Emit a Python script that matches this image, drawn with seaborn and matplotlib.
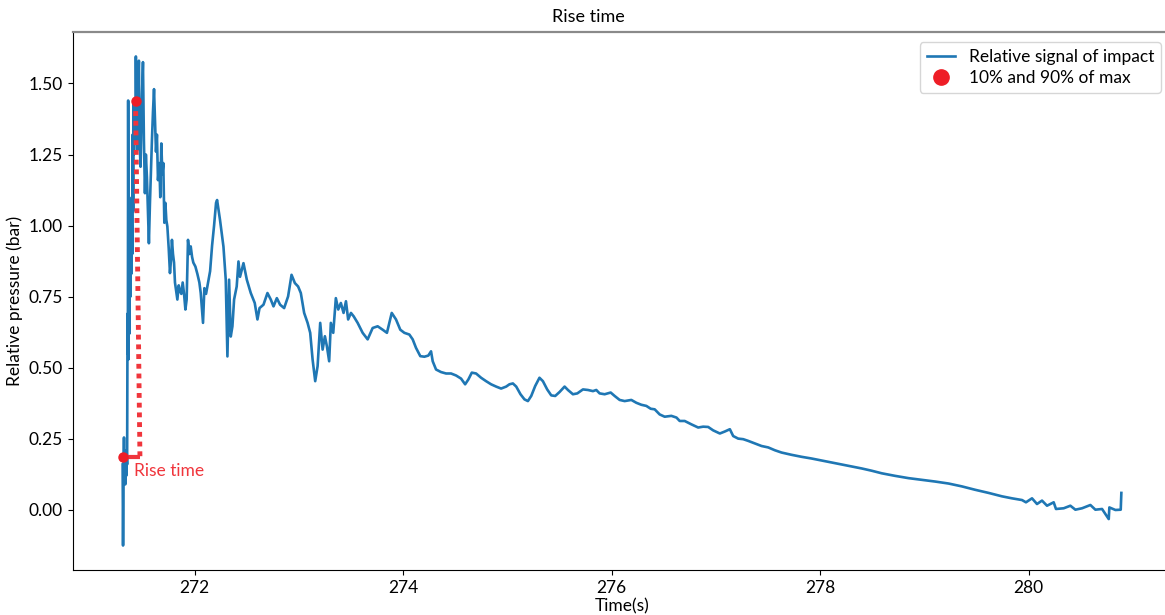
import numpy as np
import pandas as pd
import matplotlib
matplotlib.use("Agg")
import matplotlib.pyplot as plt
import seaborn as sns

plt.rcParams["font.family"] = ["Lato", "DejaVu Sans"]

# rise + peak region
time_rise = [271.309, 271.313, 271.318, 271.322, 271.326, 271.330, 271.334, 271.339,
             271.343, 271.348, 271.352, 271.356, 271.359, 271.362, 271.366, 271.370,
             271.374, 271.379, 271.383, 271.388, 271.392, 271.397, 271.401, 271.405,
             271.410, 271.414, 271.417, 271.424, 271.430, 271.436, 271.443, 271.449,
             271.455, 271.465, 271.471, 271.481, 271.490, 271.504, 271.513, 271.523,
             271.532, 271.542, 271.552, 271.561, 271.571, 271.581, 271.590, 271.600,
             271.610, 271.619, 271.629, 271.638, 271.648, 271.661, 271.670, 271.680,
             271.690, 271.699, 271.709, 271.719, 271.728, 271.738, 271.751, 271.763,
             271.773, 271.782, 271.792, 271.802, 271.811, 271.821, 271.834, 271.847,
             271.859, 271.872, 271.885, 271.898, 271.911, 271.923, 271.936, 271.949,
             271.962, 271.975, 271.987, 272.007, 272.026, 272.045, 272.058, 272.071,
             272.080, 272.093, 272.109, 272.128, 272.148, 272.167, 272.186, 272.205,
             272.215]
p_rise = [0.16, -0.125, 0.14, 0.255, 0.10, 0.21, 0.09, 0.19,
          0.12, 0.20, 0.16, 0.69, 0.55, 1.44, 0.53, 0.95,
          0.62, 1.04, 0.75, 1.02, 0.83, 1.10, 0.90, 1.32,
          1.05, 1.43, 1.25, 1.44, 1.30, 1.595, 1.35, 1.266,
          1.45, 1.58, 1.30, 1.207, 1.40, 1.575, 1.30, 1.114,
          1.25, 1.17, 1.05, 0.938, 1.08, 1.20, 1.30, 1.40,
          1.48, 1.38, 1.26, 1.32, 1.16, 1.22, 1.10, 1.289,
          1.18, 1.22, 1.01, 1.08, 1.02, 0.997, 0.92, 0.833,
          0.88, 0.95, 0.90, 0.87, 0.80, 0.775, 0.74, 0.79,
          0.77, 0.76, 0.80, 0.76, 0.705, 0.74, 0.95, 0.90,
          0.927, 0.89, 0.87, 0.856, 0.83, 0.80, 0.763, 0.70,
          0.658, 0.78, 0.76, 0.80, 0.84, 0.93, 1.00, 1.08,
          1.09]

# oscillating decay region
time_mid = [272.243, 272.276, 272.298, 272.314, 272.330, 272.346, 272.362, 272.378,
            272.403, 272.420, 272.435, 272.468, 272.500, 272.538, 272.576, 272.602,
            272.622, 272.660, 272.698, 272.730, 272.756, 272.788, 272.819, 272.858,
            272.896, 272.929, 272.961, 272.992, 273.018, 273.050, 273.083, 273.108,
            273.131, 273.156, 273.179, 273.204, 273.227, 273.249, 273.268, 273.290,
            273.306, 273.329, 273.354, 273.377, 273.402, 273.428, 273.451, 273.472,
            273.499, 273.525, 273.563, 273.611, 273.659, 273.707, 273.755, 273.803,
            273.844, 273.890, 273.931, 273.972, 274.011, 274.059, 274.091, 274.123,
            274.164, 274.203, 274.241, 274.267, 274.283, 274.315, 274.363, 274.411,
            274.459, 274.507, 274.555, 274.594, 274.625, 274.658, 274.699, 274.747,
            274.795, 274.843, 274.891, 274.939, 274.988, 275.019, 275.052, 275.084,
            275.125, 275.163, 275.196, 275.228, 275.266, 275.307, 275.340, 275.381,
            275.420, 275.458, 275.500, 275.548, 275.580, 275.628, 275.670, 275.724,
            275.772, 275.820, 275.852, 275.884, 275.932, 275.990, 276.028, 276.076,
            276.124, 276.188, 276.236, 276.284, 276.332, 276.374]
p_mid = [1.02, 0.926, 0.81, 0.54, 0.81, 0.61, 0.646, 0.74,
         0.786, 0.874, 0.82, 0.868, 0.81, 0.763, 0.728, 0.67,
         0.71, 0.722, 0.763, 0.74, 0.716, 0.745, 0.722, 0.71,
         0.751, 0.827, 0.798, 0.786, 0.763, 0.693, 0.658, 0.623,
         0.529, 0.453, 0.506, 0.658, 0.564, 0.611, 0.576, 0.523,
         0.658, 0.623, 0.745, 0.705, 0.728, 0.693, 0.734, 0.67,
         0.693, 0.681, 0.658, 0.623, 0.60, 0.64, 0.646, 0.634,
         0.623, 0.693, 0.67, 0.634, 0.623, 0.617, 0.60, 0.57,
         0.541, 0.539, 0.543, 0.558, 0.523, 0.494, 0.485, 0.48,
         0.48, 0.473, 0.462, 0.442, 0.459, 0.483, 0.48, 0.465,
         0.453, 0.442, 0.434, 0.427, 0.434, 0.442, 0.445, 0.434,
         0.407, 0.389, 0.383, 0.401, 0.436, 0.465, 0.453, 0.424,
         0.403, 0.401, 0.415, 0.434, 0.422, 0.407, 0.41, 0.424,
         0.422, 0.418, 0.422, 0.41, 0.407, 0.413, 0.401, 0.387,
         0.383, 0.387, 0.377, 0.37, 0.366, 0.356]

# slow tail
time_tail = [276.412, 276.460, 276.508, 276.572, 276.621, 276.652, 276.700, 276.765,
             276.829, 276.877, 276.925, 276.973, 277.037, 277.085, 277.133, 277.165,
             277.213, 277.261, 277.309, 277.373, 277.437, 277.501, 277.565, 277.629,
             277.725, 277.821, 277.917, 278.013, 278.109, 278.206, 278.302, 278.398,
             278.494, 278.590, 278.718, 278.846, 278.974, 279.102, 279.231, 279.358,
             279.486, 279.615, 279.743, 279.839, 279.935, 279.973, 280.031, 280.079,
             280.127, 280.175, 280.239, 280.261, 280.335, 280.399, 280.447, 280.511,
             280.591, 280.639, 280.703, 280.767, 280.773, 280.831, 280.882, 280.888]
p_tail = [0.354, 0.336, 0.328, 0.331, 0.325, 0.313, 0.313, 0.301,
          0.29, 0.293, 0.292, 0.28, 0.269, 0.276, 0.284, 0.26,
          0.251, 0.249, 0.243, 0.234, 0.225, 0.22, 0.21, 0.202,
          0.194, 0.187, 0.181, 0.174, 0.167, 0.16, 0.153, 0.146,
          0.138, 0.129, 0.12, 0.112, 0.106, 0.10, 0.093, 0.083,
          0.071, 0.06, 0.048, 0.041, 0.035, 0.027, 0.041, 0.021,
          0.033, 0.015, 0.027, 0.0035, 0.006, 0.015, 0.001, 0.006,
          0.0175, 0.001, 0.0035, -0.032, 0.009, 0.0, 0.001, 0.06]

# 10% / 90% points
t_marks = [271.315, 271.433]
p_marks = [0.187, 1.437]
t_bracket_end = 271.475

df = pd.DataFrame({
    "Time(s)": time_rise + time_mid + time_tail,
    "Relative pressure (bar)": p_rise + p_mid + p_tail,
})

fig = plt.figure(figsize=(11.65, 6.15), dpi=100)
ax = fig.add_axes([0.0624, 0.0732, 0.943, 0.8748])

sns.lineplot(data=df, x="Time(s)", y="Relative pressure (bar)", ax=ax,
             color="#1f77b4", linewidth=1.9, estimator=None, sort=False,
             label="Relative signal of impact")

red = "#ee1d26"
ax.plot([t_marks[0], t_bracket_end], [p_marks[0], p_marks[0]],
        color="#f0353c", lw=3, solid_capstyle="butt", zorder=4)
ax.plot([t_marks[1], t_bracket_end], [p_marks[1], p_marks[0]],
        color="#f0353c", lw=3.5, linestyle=(0, (1, 1)), zorder=4)
ax.plot(t_marks, p_marks, "o", color=red, ms=6.5, zorder=5,
        label="10% and 90% of max")
ax.text(t_marks[0] + 0.1, p_marks[0] - 0.05, "Rise time", color="#f0353c",
        fontsize=12.5, va="center", ha="left")

ax.set_xticks([272, 274, 276, 278, 280])
ax.set_yticks([0.0, 0.25, 0.5, 0.75, 1.0, 1.25, 1.5])
ax.set_yticklabels(["0.00", "0.25", "0.50", "0.75", "1.00", "1.25", "1.50"])
ax.tick_params(labelsize=12.5)
ax.set_xlabel("Time(s)", fontsize=12.5, labelpad=2)
ax.set_ylabel("Relative pressure (bar)", fontsize=12.5)
fig.suptitle("Rise time", fontsize=13, x=0.505, y=0.985)

ax.spines["top"].set_color("#8a8a8a")
ax.spines["top"].set_linewidth(1.6)

leg = ax.legend(loc="upper right", fontsize=12.5, handlelength=1.6,
                borderaxespad=0.6, labelspacing=0.25)
leg.legend_handles[1].set_markersize(11)

plt.savefig("out.png", dpi=100)
